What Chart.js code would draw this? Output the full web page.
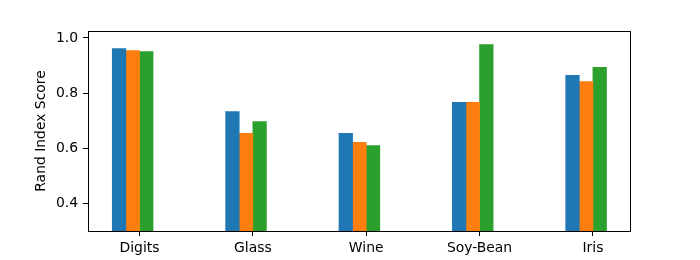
<!DOCTYPE html>
<html>
<head>
<meta charset="utf-8">
<script src="https://cdn.jsdelivr.net/npm/chart.js@4"></script>
<style>
  body { margin: 0; background: #fff; }
  canvas { display: block; }
</style>
</head>
<body>
<canvas id="chart" width="700" height="260"></canvas>
<script>
// Data
const categories = ['Digits', 'Glass', 'Wine', 'Soy-Bean', 'Iris'];
const seriesA = [0.961, 0.733, 0.654, 0.766, 0.864];
const seriesB = [0.954, 0.654, 0.621, 0.766, 0.842];
const seriesC = [0.950, 0.697, 0.610, 0.976, 0.893];
const yTicks = [0.4, 0.6, 0.8, 1.0];

const barWidth = 0.12;           // in x units
const colors = ['#1f77b4', '#ff7f0e', '#2ca02c'];
const font = { family: 'DejaVu Sans', size: 13.9 };

// bars sit left of the tick: offsets -1.5w, -0.5w, +0.5w
function toPoints(values, k) {
  return values.map((v, i) => ({ x: i + (k - 1.5) * barWidth, y: v }));
}

const xMin = -0.454, xMax = 4.336;
const plotWidth = 700 - 88 - 69;
const barPx = barWidth * plotWidth / (xMax - xMin);

// box around the plot area, like matplotlib's spines
const frame = {
  id: 'frame',
  afterDraw(chart) {
    const { ctx, chartArea: a } = chart;
    ctx.save();
    ctx.strokeStyle = '#000';
    ctx.lineWidth = 1;
    ctx.strokeRect(Math.round(a.left) + 0.5, Math.round(a.top) + 0.5,
      Math.round(a.right - a.left) - 1, Math.round(a.bottom - a.top));
    ctx.restore();
  }
};

new Chart(document.getElementById('chart').getContext('2d'), {
  type: 'bar',
  data: {
    datasets: [seriesA, seriesB, seriesC].map((vals, k) => ({
      label: 'Series ' + (k + 1),
      data: toPoints(vals, k),
      backgroundColor: colors[k],
      borderWidth: 0,
      barThickness: barPx,
      grouped: false
    }))
  },
  options: {
    responsive: false,
    animation: false,
    devicePixelRatio: 1,
    layout: { padding: { left: 0, right: 69, top: 31, bottom: 0 } },
    plugins: { legend: { display: false }, tooltip: { enabled: false } },
    scales: {
      x: {
        type: 'linear',
        min: xMin,
        max: xMax,
        offset: false,
        afterBuildTicks: axis => { axis.ticks = categories.map((c, i) => ({ value: i })); },
        afterFit: axis => { axis.height = 29; },
        grid: { offset: false, drawOnChartArea: false, drawTicks: true, tickLength: 5, color: '#000' },
        border: { display: false },
        ticks: {
          color: '#000', font: font, padding: 4, maxRotation: 0, autoSkip: false,
          callback: v => categories[v]
        }
      },
      y: {
        min: 0.3,
        max: 1.025,
        afterBuildTicks: axis => { axis.ticks = yTicks.map(v => ({ value: v })); },
        afterFit: axis => { axis.width = 88; },
        grid: { drawOnChartArea: false, drawTicks: true, tickLength: 5, color: '#000' },
        border: { display: false },
        ticks: { color: '#000', font: font, padding: 5, callback: v => v.toFixed(1) },
        title: {
          display: true, text: 'Rand Index Score', color: '#000', font: font,
          padding: { top: 33, bottom: 0 }
        }
      }
    }
  },
  plugins: [frame]
});
</script>
</body>
</html>
